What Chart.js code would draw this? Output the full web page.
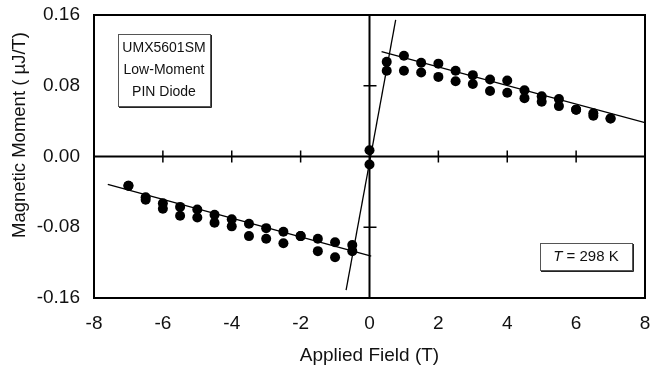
<!DOCTYPE html>
<html>
<head>
<meta charset="utf-8">
<script src="https://cdn.jsdelivr.net/npm/chart.js@4.4.1/dist/chart.umd.min.js"></script>
<style>
  html, body { margin: 0; padding: 0; background: #fff; }
  #wrap { width: 650px; height: 371px; }
</style>
</head>
<body>
<div id="wrap"><canvas id="momentChart"></canvas></div>
<script>
const fieldPos = [0.5, 1, 1.5, 2, 2.5, 3, 3.5, 4, 4.5, 5, 5.5, 6, 6.5, 7];
const momentPosA = [0.107, 0.114, 0.106, 0.105, 0.097, 0.092, 0.087, 0.086, 0.075, 0.068, 0.065, 0.053, 0.049, 0.043];
const momentPosB = [0.097, 0.097, 0.095, 0.090, 0.085, 0.082, 0.074, 0.072, 0.066, 0.062, 0.057, 0.053, 0.046, 0.043];

const fieldNeg = [-7, -6.5, -6, -5.5, -5, -4.5, -4, -3.5, -3, -2.5, -2, -1.5, -1, -0.5];
const momentNegA = [-0.033, -0.046, -0.053, -0.057, -0.060, -0.066, -0.071, -0.076, -0.081, -0.085, -0.090, -0.093, -0.097, -0.100];
const momentNegB = [-0.033, -0.049, -0.059, -0.067, -0.069, -0.075, -0.079, -0.090, -0.093, -0.098, -0.090, -0.107, -0.114, -0.107];

const fieldZero = [0, 0];
const momentZero = [0.007, -0.009];

// fitted lines (end points)
const fitPosX = [0.35, 8];
const fitPosY = [0.1186, 0.0382];
const fitNegX = [-7.6, 0.05];
const fitNegY = [-0.0315, -0.1126];
const fitLowX = [-0.68, 0.76];
const fitLowY = [-0.151, 0.1544];

const xTicks = [-8, -6, -4, -2, 0, 2, 4, 6, 8];
const yTicks = [-0.16, -0.08, 0, 0.08, 0.16];

const sampleLabel = ['UMX5601SM', 'Low-Moment', 'PIN Diode'];
const tempLabel = '298 K';
const yTitle = 'Magnetic Moment ( µJ/T)';

const FONT = '"Liberation Sans", Arial, sans-serif';
const INK = '#111';

const toPoints = (xs, ys) => xs.map((x, i) => ({ x, y: ys[i] }));

const dotStyle = {
  showLine: false,
  pointRadius: 5,
  pointHoverRadius: 5,
  pointBackgroundColor: '#000',
  pointBorderColor: '#000',
  pointBorderWidth: 0,
};

const lineStyle = {
  showLine: true,
  pointRadius: 0,
  borderColor: '#000',
  borderWidth: 1.3,
  fill: false,
};

const crossAxes = {
  id: 'crossAxes',
  beforeDatasetsDraw(chart) {
    const { ctx, chartArea, scales } = chart;
    const x0 = scales.x.getPixelForValue(0);
    const y0 = scales.y.getPixelForValue(0);
    ctx.save();
    ctx.strokeStyle = '#000';
    ctx.lineWidth = 2;
    ctx.beginPath();
    ctx.moveTo(chartArea.left, y0);
    ctx.lineTo(chartArea.right, y0);
    ctx.moveTo(x0, chartArea.top);
    ctx.lineTo(x0, chartArea.bottom);
    ctx.stroke();

    ctx.lineWidth = 1.5;
    ctx.beginPath();
    xTicks.forEach((v) => {
      if (v === 0 || Math.abs(v) === 8) return;
      const px = scales.x.getPixelForValue(v);
      ctx.moveTo(px, y0 - 6);
      ctx.lineTo(px, y0 + 6);
    });
    yTicks.forEach((v) => {
      if (v === 0 || Math.abs(v) === 0.16) return;
      const py = scales.y.getPixelForValue(v);
      ctx.moveTo(x0 - 6, py);
      ctx.lineTo(x0 + 7, py);
    });
    ctx.stroke();
    ctx.restore();
  },
  afterDraw(chart) {
    const { ctx, chartArea } = chart;
    ctx.save();
    ctx.strokeStyle = '#000';
    ctx.lineWidth = 2;
    ctx.strokeRect(chartArea.left, chartArea.top, chartArea.right - chartArea.left, chartArea.bottom - chartArea.top);

    // y axis title sits a bit above the axis middle in the original
    ctx.save();
    ctx.translate(20, 135);
    ctx.rotate(-Math.PI / 2);
    ctx.fillStyle = INK;
    ctx.font = '18.5px ' + FONT;
    ctx.textAlign = 'center';
    ctx.textBaseline = 'middle';
    ctx.fillText(yTitle, 0, 0);
    ctx.restore();

    const drawBox = (l, t, w, h) => {
      ctx.fillStyle = '#fff';
      ctx.fillRect(l, t, w, h);
      ctx.strokeStyle = '#555';
      ctx.lineWidth = 1;
      ctx.strokeRect(l + 0.5, t + 0.5, w, h);
      ctx.strokeStyle = '#222';
      ctx.beginPath();
      ctx.moveTo(l + w + 1.5, t + 1);
      ctx.lineTo(l + w + 1.5, t + h + 1.5);
      ctx.lineTo(l + 1, t + h + 1.5);
      ctx.stroke();
    };

    // sample box, top left
    drawBox(118, 34, 92, 72);
    ctx.fillStyle = INK;
    ctx.font = '14px ' + FONT;
    ctx.textAlign = 'center';
    ctx.textBaseline = 'middle';
    sampleLabel.forEach((line, i) => ctx.fillText(line, 164, 48 + i * 22));

    // temperature box, bottom right
    drawBox(540, 243, 92, 27);
    ctx.fillStyle = INK;
    ctx.textAlign = 'left';
    ctx.textBaseline = 'middle';
    ctx.font = 'italic 15px ' + FONT;
    const tW = ctx.measureText('T').width;
    ctx.font = '15px ' + FONT;
    const rest = ' = ' + tempLabel;
    const rW = ctx.measureText(rest).width;
    const sx = 586 - (tW + rW) / 2;
    ctx.font = 'italic 15px ' + FONT;
    ctx.fillText('T', sx, 257);
    ctx.font = '15px ' + FONT;
    ctx.fillText(rest, sx + tW, 257);
    ctx.restore();
  },
};

new Chart(document.getElementById('momentChart'), {
  type: 'scatter',
  data: {
    datasets: [
      { ...lineStyle, data: toPoints(fitPosX, fitPosY) },
      { ...lineStyle, data: toPoints(fitNegX, fitNegY) },
      { ...lineStyle, data: toPoints(fitLowX, fitLowY) },
      { ...dotStyle, data: toPoints(fieldPos, momentPosA) },
      { ...dotStyle, data: toPoints(fieldPos, momentPosB) },
      { ...dotStyle, data: toPoints(fieldNeg, momentNegA) },
      { ...dotStyle, data: toPoints(fieldNeg, momentNegB) },
      { ...dotStyle, data: toPoints(fieldZero, momentZero) },
    ],
  },
  options: {
    responsive: true,
    maintainAspectRatio: false,
    animation: false,
    events: [],
    layout: { padding: { top: 15, right: 5, left: 0, bottom: 0 } },
    plugins: {
      legend: { display: false },
      tooltip: { enabled: false },
    },
    scales: {
      x: {
        type: 'linear',
        min: -8,
        max: 8,
        afterFit: (scale) => {
          scale.height = 73;
          scale.paddingLeft = 0;
          scale.paddingRight = 0;
        },
        afterBuildTicks: (scale) => { scale.ticks = xTicks.map((v) => ({ value: v })); },
        grid: { display: false, drawTicks: false },
        border: { display: false },
        ticks: {
          color: INK,
          padding: 14,
          maxRotation: 0,
          font: { family: FONT, size: 19 },
          callback: (v) => String(v),
        },
        title: {
          display: true,
          text: 'Applied Field (T)',
          color: INK,
          padding: { top: 0, bottom: 4 },
          font: { family: FONT, size: 19 },
        },
      },
      y: {
        type: 'linear',
        min: -0.16,
        max: 0.16,
        afterFit: (scale) => {
          scale.width = 94;
          scale.paddingTop = 0;
          scale.paddingBottom = 0;
        },
        afterBuildTicks: (scale) => { scale.ticks = yTicks.map((v) => ({ value: v })); },
        grid: { display: false, drawTicks: false },
        border: { display: false },
        ticks: {
          color: INK,
          padding: 14,
          font: { family: FONT, size: 19 },
          callback: (v) => Number(v).toFixed(2),
        },
      },
    },
  },
  plugins: [crossAxes],
});
</script>
</body>
</html>
